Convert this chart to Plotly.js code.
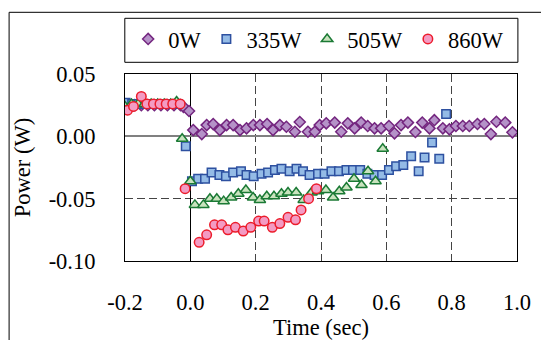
<!DOCTYPE html>
<html>
<head>
<meta charset="utf-8">
<script src="https://cdn.plot.ly/plotly-3.0.1.min.js"></script>
<style>html,body{margin:0;padding:0;background:#fff;}#chart{width:541px;height:340px;}</style>
</head>
<body>
<div id="chart"></div>
<script>
// ---- data ----
var seriesNames = ["0W", "335W", "505W", "860W"];

var t0W = [-0.19,-0.17,-0.15,-0.13,-0.11,-0.09,-0.07,-0.05,-0.03,-0.021,-0.004,
  0.009,0.035,0.050,0.070,0.090,0.111,0.131,0.152,0.172,0.193,0.213,0.235,0.253,0.274,0.294,0.320,0.335,
  0.360,0.381,0.396,0.416,0.442,0.462,0.482,0.503,0.523,0.543,0.564,0.584,0.608,0.625,0.645,0.666,0.689,
  0.710,0.732,0.747,0.773,0.793,0.813,0.834,0.854,0.879,0.900,0.920,0.937,0.964,0.986];
var p0W = [0.025,0.025,0.025,0.025,0.025,0.025,0.025,0.025,0.025,0.0237,0.0203,
  0.005,0.0018,0.009,0.0098,0.005,0.009,0.009,0.005,0.0064,0.009,0.009,0.0098,0.005,0.009,0.0077,0.0037,0.0115,
  0.0037,0.0037,0.009,0.0104,0.011,0.0037,0.0104,0.0064,0.011,0.0083,0.0064,0.0064,0.0083,0.0024,0.009,0.011,0.0035,
  0.011,0.0064,0.013,0.0064,0.0056,0.0083,0.0083,0.0083,0.0099,0.0099,0.0018,0.0117,0.011,0.0032];

var t335W = [-0.198,-0.178,-0.158,-0.138,-0.118,-0.098,-0.078,-0.058,-0.038,-0.014,
  0.005,0.024,0.045,0.065,0.089,0.109,0.131,0.155,0.172,0.194,0.218,0.238,0.259,0.279,0.304,0.325,0.345,
  0.365,0.391,0.411,0.432,0.455,0.478,0.498,0.520,0.542,0.564,0.587,0.608,0.630,0.652,0.676,0.699,0.717,
  0.740,0.762,0.783];
var p335W = [0.027,0.026,0.026,0.026,0.026,0.026,0.026,0.026,0.026,-0.008,
  -0.036,-0.034,-0.034,-0.029,-0.031,-0.032,-0.029,-0.028,-0.031,-0.032,-0.030,-0.029,-0.027,-0.026,-0.028,-0.026,-0.028,
  -0.031,-0.030,-0.030,-0.028,-0.028,-0.027,-0.027,-0.027,-0.030,-0.031,-0.031,-0.027,-0.024,-0.023,-0.016,-0.028,-0.017,
  -0.005,-0.018,0.018];

var t505W = [-0.200,-0.180,-0.160,-0.140,-0.120,-0.100,-0.080,-0.060,-0.042,-0.025,
  0.000,0.014,0.040,0.060,0.081,0.102,0.125,0.147,0.170,0.192,0.213,0.234,0.256,0.279,0.299,0.324,0.347,
  0.371,0.391,0.415,0.437,0.456,0.478,0.501,0.524,0.544,0.567,0.589];
var p505W = [0.024,0.026,0.026,0.026,0.026,0.026,0.026,0.026,0.028,-0.002,
  -0.036,-0.055,-0.055,-0.050,-0.050,-0.052,-0.049,-0.046,-0.043,-0.049,-0.051,-0.048,-0.048,-0.046,-0.045,-0.045,-0.051,
  -0.045,-0.044,-0.043,-0.049,-0.044,-0.041,-0.034,-0.039,-0.028,-0.036,-0.010];

var t860W = [-0.192,-0.174,-0.150,-0.133,-0.113,-0.093,-0.074,-0.054,-0.031,-0.016,
  0.027,0.050,0.074,0.096,0.115,0.138,0.162,0.185,0.209,0.226,0.251,0.274,0.299,0.322,0.339,0.362,0.386];
var p860W = [0.021,0.024,0.032,0.026,0.026,0.026,0.026,0.026,0.026,-0.042,
  -0.085,-0.079,-0.071,-0.071,-0.075,-0.073,-0.076,-0.073,-0.068,-0.068,-0.073,-0.070,-0.065,-0.067,-0.059,-0.050,-0.042];

var xTickVals = [-0.2, 0.0, 0.2, 0.4, 0.6, 0.8, 1.0];
var xTickText = ["-0.2", "0.0", "0.2", "0.4", "0.6", "0.8", "1.0"];
var yTickVals = [0.05, 0.00, -0.05, -0.10];
var yTickText = ["0.05", "0.00", "-0.05", "-0.10"];

// ---- styles ----
var FONT = "Liberation Serif, Times New Roman, serif";
var FS = 22.5;
function mk(name, x, y, symbol, size, fill, line) {
  return {
    type: "scatter", mode: "markers", name: name, x: x, y: y,
    marker: {symbol: symbol, size: size, color: fill, line: {color: line, width: 1.5}}
  };
}
var traces = [
  mk(seriesNames[0], t0W, p0W, "diamond", 8.5, "#B592C8", "#74267F"),
  mk(seriesNames[1], t335W, p335W, "square", 8.5, "#94BBE6", "#2D50A0"),
  mk(seriesNames[2], t505W, p505W, "triangle-up", 10, "#C9E3BE", "#1B7A35"),
  mk(seriesNames[3], t860W, p860W, "circle", 9.5, "#F39BC3", "#EC1C2B")
];

var layout = {
  width: 541, height: 340,
  margin: {l: 124.5, r: 23.5, t: 74, b: 79, pad: 0},
  paper_bgcolor: "#fff", plot_bgcolor: "#fff",
  font: {family: FONT, size: FS, color: "#000"},
  showlegend: true,
  legend: {
    orientation: "h", x: 0.008, xanchor: "left", y: 1.1856, yanchor: "middle",
    bgcolor: "rgba(0,0,0,0)", borderwidth: 0, font: {family: FONT, size: FS, color: "#000"},
    itemclick: false
  },
  xaxis: {
    range: [-0.2, 1.0], tickvals: xTickVals, ticktext: xTickText,
    ticks: "", showline: true, mirror: true, linecolor: "#000", linewidth: 1,
    showgrid: true, gridcolor: "#444", gridwidth: 1, griddash: "8px,4px",
    zeroline: true, zerolinecolor: "#000", zerolinewidth: 1,
    ticklabelstandoff: 21,
    tickfont: {family: FONT, size: FS, color: "#000"},
    title: {text: "Time (sec)", font: {family: FONT, size: FS}, standoff: 3},
    fixedrange: true
  },
  yaxis: {
    range: [-0.10, 0.05], tickvals: yTickVals, ticktext: yTickText,
    ticks: "", showline: true, mirror: true, linecolor: "#000", linewidth: 1,
    showgrid: true, gridcolor: "#444", gridwidth: 1, griddash: "8px,4px",
    zeroline: true, zerolinecolor: "#808080", zerolinewidth: 2,
    ticklabelstandoff: 24,
    tickfont: {family: FONT, size: FS, color: "#000"},
    title: {text: "Power (W)", font: {family: FONT, size: FS}, standoff: 11},
    fixedrange: true
  },
  shapes: [
    {type: "rect", xref: "paper", yref: "paper",
     x0: (8.3 - 124.5) / 393, x1: (560 - 124.5) / 393,
     y0: 1 - (360 - 74) / 187, y1: 1 + (74 - 12.3) / 187,
     line: {color: "#000", width: 1}, fillcolor: "rgba(0,0,0,0)"},
    {type: "rect", xref: "paper", yref: "paper",
     x0: (124.3 - 124.5) / 393, x1: (518.4 - 124.5) / 393,
     y0: 1 + (74 - 62.3) / 187, y1: 1 + (74 - 18.3) / 187,
     line: {color: "#000", width: 1}, fillcolor: "rgba(0,0,0,0)"}
  ]
};

Plotly.newPlot("chart", traces, layout, {staticPlot: true, displayModeBar: false});
</script>
</body>
</html>
